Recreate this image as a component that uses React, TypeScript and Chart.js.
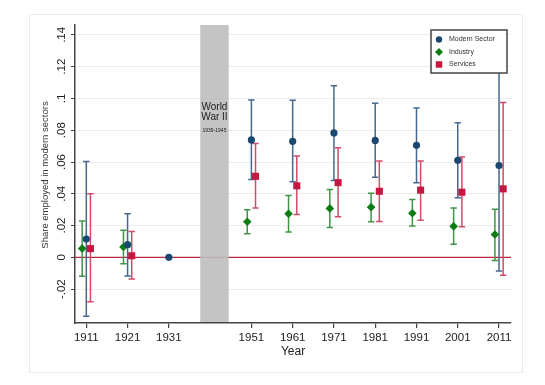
import React, { useEffect, useRef } from 'react';
import { Chart, registerables } from 'chart.js';
Chart.register(...registerables);

const years = [1911, 1921, 1931, 1951, 1961, 1971, 1981, 1991, 2001, 2011];
const modern = [0.0115, 0.008, 0, 0.0739, 0.073, 0.0783, 0.0736, 0.0705, 0.0611, 0.0578];
const modernLo = [-0.037, -0.0117, null, 0.049, 0.0475, 0.0483, 0.0504, 0.0469, 0.0375, -0.0086];
const modernHi = [0.0603, 0.0274, null, 0.099, 0.0988, 0.108, 0.0969, 0.094, 0.0847, 0.124];
const industry = [0.0055, 0.0065, null, 0.0224, 0.0274, 0.0308, 0.0316, 0.0278, 0.0195, 0.0144];
const industryLo = [-0.0119, -0.004, null, 0.0149, 0.0159, 0.0188, 0.0224, 0.0197, 0.0082, -0.0019];
const industryHi = [0.0228, 0.017, null, 0.030, 0.039, 0.0427, 0.0404, 0.0364, 0.031, 0.0303];
const services = [0.0055, 0.001, null, 0.051, 0.045, 0.047, 0.0416, 0.0423, 0.041, 0.0431];
const servicesLo = [-0.028, -0.0136, null, 0.031, 0.027, 0.0255, 0.0226, 0.0234, 0.0193, -0.0113];
const servicesHi = [0.040, 0.0163, null, 0.0717, 0.0638, 0.0689, 0.0607, 0.0607, 0.0632, 0.0975];

const seriesNames = ['Modern Sector', 'Industry', 'Services'];
const seriesOffsets = [0, -1, 1];
const xTickValues = [1911, 1921, 1931, 1951, 1961, 1971, 1981, 1991, 2001, 2011];
const yTickValues = [-0.02, 0, 0.02, 0.04, 0.06, 0.08, 0.1, 0.12, 0.14];
const yTickLabels = ['-.02', '0', '.02', '.04', '.06', '.08', '.1', '.12', '.14'];
const warStart = 1938.6;
const warEnd = 1945.5;
const warLines = ['World', 'War II'];
const warYears = '1939-1945';
const xTitle = 'Year';
const yTitle = 'Share employed in modern sectors';

const FONT = '"Liberation Sans", Arial, Helvetica, sans-serif';
const markerColors = ['#1b4871', '#0b7d12', '#c5173f'];
const ciColors = ['#45698c', '#3f9445', '#d24c69'];
const pointStyles = ['circle', 'rectRot', 'rect'];
const pointRadii = [3.6, 4.3, 5];

function pts(vals: (number | null)[], off: number) {
  return years.map((y, i) => (vals[i] === null ? null : { x: y + off, y: vals[i] as number })).filter(Boolean) as { x: number; y: number }[];
}

const lows = [modernLo, industryLo, servicesLo];
const highs = [modernHi, industryHi, servicesHi];

function drawMarker(ctx: CanvasRenderingContext2D, style: string, x: number, y: number, r: number, color: string) {
  ctx.save();
  ctx.fillStyle = color;
  ctx.beginPath();
  if (style === 'circle') ctx.arc(x, y, r, 0, Math.PI * 2);
  else if (style === 'rectRot') {
    ctx.moveTo(x, y - r); ctx.lineTo(x + r, y); ctx.lineTo(x, y + r); ctx.lineTo(x - r, y); ctx.closePath();
  } else {
    const s = r * Math.SQRT1_2;
    ctx.rect(x - s, y - s, 2 * s, 2 * s);
  }
  ctx.fill();
  ctx.restore();
}

const customPlugin = {
  id: 'custom',
  beforeDraw(chart: any) {
    const ctx = chart.ctx as CanvasRenderingContext2D;
    ctx.save();
    ctx.fillStyle = '#ffffff';
    ctx.fillRect(0, 0, chart.width, chart.height);
    ctx.strokeStyle = '#e9e9e9';
    ctx.lineWidth = 1;
    ctx.strokeRect(29.5, 14.5, 493, 358);
    ctx.restore();
  },
  beforeDatasetsDraw(chart: any) {
    const ctx = chart.ctx as CanvasRenderingContext2D;
    const xs = chart.scales.x;
    const ys = chart.scales.y;
    const area = chart.chartArea;
    ctx.save();
    // zero line
    const y0 = ys.getPixelForValue(0);
    ctx.strokeStyle = '#b8283f';
    ctx.lineWidth = 1.2;
    ctx.beginPath();
    ctx.moveTo(area.left, y0);
    ctx.lineTo(area.right, y0);
    ctx.stroke();
    // war band
    const x1 = xs.getPixelForValue(warStart);
    const x2 = xs.getPixelForValue(warEnd);
    ctx.fillStyle = 'rgba(190,190,190,0.9)';
    ctx.fillRect(x1, area.top, x2 - x1, area.bottom - area.top - 1);
    const cx = (x1 + x2) / 2;
    ctx.fillStyle = '#222';
    ctx.textAlign = 'center';
    ctx.textBaseline = 'middle';
    ctx.font = `10px ${FONT}`;
    ctx.fillText(warLines[0], cx, ys.getPixelForValue(0.0945));
    ctx.fillText(warLines[1], cx, ys.getPixelForValue(0.0883));
    ctx.font = `5px ${FONT}`;
    ctx.fillText(warYears, cx, ys.getPixelForValue(0.0797));
    // error bars
    for (let s = 0; s < 3; s++) {
      ctx.strokeStyle = ciColors[s];
      ctx.lineWidth = 1.5;
      for (let i = 0; i < years.length; i++) {
        const lo = lows[s][i];
        const hi = highs[s][i];
        if (lo === null || hi === null) continue;
        const px = xs.getPixelForValue(years[i] + seriesOffsets[s]);
        const pl = ys.getPixelForValue(lo);
        const ph = ys.getPixelForValue(hi);
        ctx.beginPath();
        ctx.moveTo(px, pl); ctx.lineTo(px, ph);
        ctx.moveTo(px - 3.2, pl); ctx.lineTo(px + 3.2, pl);
        ctx.moveTo(px - 3.2, ph); ctx.lineTo(px + 3.2, ph);
        ctx.stroke();
      }
    }
    ctx.restore();
  },
  afterDraw(chart: any) {
    const ctx = chart.ctx as CanvasRenderingContext2D;
    const ys = chart.scales.y;
    const area = chart.chartArea;
    ctx.save();
    ctx.fillStyle = '#222';
    ctx.textAlign = 'center';
    ctx.textBaseline = 'middle';
    ctx.font = `11.5px ${FONT}`;
    yTickValues.forEach((v, i) => {
      const py = ys.getPixelForValue(v);
      ctx.save();
      ctx.translate(62, py);
      ctx.rotate(-Math.PI / 2);
      ctx.fillText(yTickLabels[i], 0, 0);
      ctx.restore();
    });
    ctx.save();
    ctx.fillStyle = '#333';
    ctx.font = `9.5px ${FONT}`;
    ctx.translate(45, (area.top + area.bottom) / 2 + 1);
    ctx.rotate(-Math.PI / 2);
    ctx.fillText(yTitle, 0, 0);
    ctx.restore();
    ctx.font = `12px ${FONT}`;
    ctx.fillStyle = '#222';
    ctx.fillText(xTitle, (area.left + area.right) / 2, 352);
    // legend
    const lx = 431, ly = 30, lw = 76, lh = 43;
    ctx.fillStyle = '#fff';
    ctx.fillRect(lx, ly, lw, lh);
    ctx.strokeStyle = '#444';
    ctx.lineWidth = 1.5;
    ctx.strokeRect(lx, ly, lw, lh);
    const rowY = [39.5, 52, 64.5];
    const legR = [3.2, 4, 4.6];
    for (let s = 0; s < 3; s++) {
      drawMarker(ctx, pointStyles[s], 439, rowY[s], legR[s], markerColors[s]);
      ctx.fillStyle = '#333';
      ctx.textAlign = 'left';
      ctx.font = `7px ${FONT}`;
      ctx.fillText(seriesNames[s], 449, rowY[s]);
    }
    ctx.restore();
  },
};

export default function App() {
  const ref = useRef<HTMLCanvasElement>(null);
  useEffect(() => {
    document.body.style.margin = '0';
    const canvas = ref.current!;
    const datasets = [modern, industry, services].map((vals, s) => ({
      label: seriesNames[s],
      data: pts(vals, seriesOffsets[s]),
      pointStyle: pointStyles[s] as any,
      pointRadius: pointRadii[s],
      pointBackgroundColor: markerColors[s],
      pointBorderColor: markerColors[s],
      pointBorderWidth: 0,
      showLine: false,
    }));
    const chart = new Chart(canvas, {
      type: 'scatter',
      data: { datasets },
      options: {
        responsive: false,
        animation: false,
        devicePixelRatio: 1,
        layout: { padding: { left: 30, right: 34, top: 25, bottom: 0 } },
        plugins: { legend: { display: false }, tooltip: { enabled: false } },
        scales: {
          x: {
            type: 'linear',
            min: 1908.26,
            max: 2013.9,
            afterBuildTicks: (s: any) => { s.ticks = xTickValues.map((v) => ({ value: v })); },
            afterFit: (s: any) => { s.height = 62; },
            ticks: {
              autoSkip: false,
              maxRotation: 0,
              minRotation: 0,
              padding: 3,
              color: '#222',
              font: { family: FONT, size: 11.5 },
              callback: (v: any) => String(v),
            },
            grid: { drawOnChartArea: false, drawTicks: true, tickLength: 5, tickColor: '#444', lineWidth: 1.2 },
            border: { color: '#444', width: 1.5 },
          },
          y: {
            type: 'linear',
            min: -0.0413,
            max: 0.1462,
            afterBuildTicks: (s: any) => { s.ticks = yTickValues.map((v) => ({ value: v })); },
            afterFit: (s: any) => { s.width = 45; },
            ticks: { display: false },
            grid: { color: '#ececec', lineWidth: 1, drawTicks: true, tickLength: 4, tickColor: '#444' },
            border: { color: '#444', width: 1.5 },
          },
        },
      },
      plugins: [customPlugin],
    });
    return () => chart.destroy();
  }, []);
  return (
    <div style={{ width: 545, height: 385 }}>
      <canvas ref={ref} width={545} height={385} style={{ display: 'block' }} />
    </div>
  );
}
